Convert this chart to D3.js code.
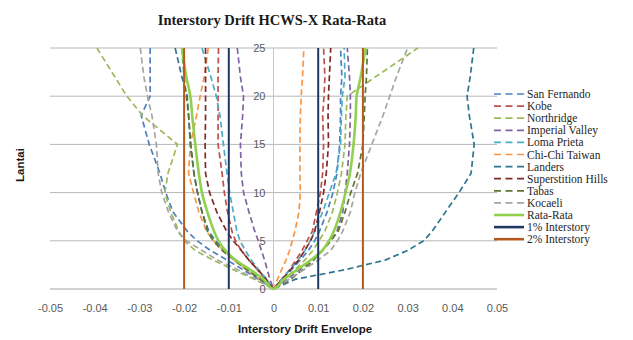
<!DOCTYPE html>
<head>
    <meta charset="utf-8">
    <script src="https://cdn.jsdelivr.net/npm/d3@7/dist/d3.min.js"></script>
    <style>
        body { margin: 0; background: #fff; }
    </style>
</head>
<body>
<div>
    <svg width="633" height="340"></svg>
</div>
<script type="text/javascript">
    var svg = d3.select("svg"),
            width = +svg.attr("width"),
            height = +svg.attr("height");

    // lantai (story) where drift envelope values were read
    var floors = [0, 1, 2, 3, 4, 5, 6, 8, 10, 12, 15, 18, 20, 22, 25];

    var sanFernandoMin = [0, -0.0033, -0.0068, -0.0104, -0.0141, -0.0171, -0.0193, -0.0225, -0.0241, -0.0254, -0.0278, -0.0296, -0.0276, -0.0276, -0.0276];
    var sanFernandoMax = [0, 0.0020, 0.0040, 0.0060, 0.0078, 0.0092, 0.0103, 0.0120, 0.0133, 0.0142, 0.0148, 0.0150, 0.0150, 0.0153, 0.0150];
    var kobeMin = [0, -0.0018, -0.0036, -0.0055, -0.0072, -0.0085, -0.0093, -0.0103, -0.0110, -0.0115, -0.0124, -0.0124, -0.0124, -0.0124, -0.0123];
    var kobeMax = [0, 0.0018, 0.0036, 0.0050, 0.0064, 0.0075, 0.0087, 0.0096, 0.0105, 0.0110, 0.0112, 0.0110, 0.0113, 0.0115, 0.0112];
    var northridgeMin = [0, -0.0042, -0.0090, -0.0135, -0.0175, -0.0200, -0.0212, -0.0230, -0.0243, -0.0236, -0.0215, -0.0293, -0.0328, -0.0355, -0.0395];
    var northridgeMax = [0, 0.0024, 0.0048, 0.0070, 0.0088, 0.0102, 0.0115, 0.0132, 0.0143, 0.0152, 0.0160, 0.0162, 0.0165, 0.0228, 0.0323];
    var imperialValleyMin = [0, -0.0008, -0.0014, -0.0020, -0.0027, -0.0034, -0.0042, -0.0055, -0.0067, -0.0072, -0.0074, -0.0069, -0.0067, -0.0074, -0.0081];
    var imperialValleyMax = [0, 0.0030, 0.0058, 0.0085, 0.0110, 0.0128, 0.0142, 0.0155, 0.0160, 0.0165, 0.0170, 0.0172, 0.0172, 0.0170, 0.0165];
    var lomaPrietaMin = [0, -0.0015, -0.0033, -0.0050, -0.0063, -0.0075, -0.0082, -0.0090, -0.0098, -0.0104, -0.0112, -0.0120, -0.0128, -0.0140, -0.0160];
    var lomaPrietaMax = [0, 0.0018, 0.0037, 0.0055, 0.0070, 0.0082, 0.0092, 0.0110, 0.0125, 0.0140, 0.0150, 0.0152, 0.0154, 0.0160, 0.0158];
    var chiChiMin = [0, -0.0030, -0.0060, -0.0089, -0.0112, -0.0134, -0.0150, -0.0167, -0.0179, -0.0190, -0.0186, -0.0172, -0.0164, -0.0155, -0.0146];
    var chiChiMax = [0, 0.0009, 0.0018, 0.0028, 0.0036, 0.0042, 0.0048, 0.0057, 0.0060, 0.0059, 0.0059, 0.0060, 0.0062, 0.0065, 0.0068];
    var landersMin = [0, -0.0025, -0.0055, -0.0085, -0.0110, -0.0130, -0.0145, -0.0160, -0.0170, -0.0178, -0.0186, -0.0190, -0.0193, -0.0205, -0.0220];
    var landersMax = [0, 0.0048, 0.0160, 0.0250, 0.0300, 0.0336, 0.0355, 0.0385, 0.0415, 0.0442, 0.0449, 0.0438, 0.0433, 0.0440, 0.0448];
    var superstitionMin = [0, -0.0016, -0.0035, -0.0055, -0.0072, -0.0090, -0.0105, -0.0127, -0.0143, -0.0152, -0.0153, -0.0152, -0.0152, -0.0152, -0.0152];
    var superstitionMax = [0, 0.0019, 0.0038, 0.0056, 0.0070, 0.0083, 0.0092, 0.0103, 0.0112, 0.0118, 0.0123, 0.0122, 0.0123, 0.0125, 0.0128];
    var tabasMin = [0, -0.0030, -0.0060, -0.0088, -0.0115, -0.0135, -0.0148, -0.0160, -0.0170, -0.0178, -0.0185, -0.0190, -0.0195, -0.0200, -0.0205];
    var tabasMax = [0, 0.0038, 0.0065, 0.0090, 0.0110, 0.0128, 0.0145, 0.0160, 0.0173, 0.0188, 0.0200, 0.0203, 0.0205, 0.0208, 0.0210];
    var kocaeliMin = [0, -0.0040, -0.0080, -0.0125, -0.0160, -0.0195, -0.0215, -0.0235, -0.0250, -0.0258, -0.0262, -0.0272, -0.0282, -0.0290, -0.0298];
    var kocaeliMax = [0, 0.0034, 0.0068, 0.0100, 0.0128, 0.0143, 0.0155, 0.0172, 0.0182, 0.0195, 0.0220, 0.0245, 0.0260, 0.0275, 0.0300];
    var rataMin = [0, -0.0022, -0.0052, -0.0085, -0.0108, -0.0123, -0.0133, -0.0148, -0.0160, -0.0167, -0.0175, -0.0182, -0.0186, -0.0195, -0.0205];
    var rataMax = [0, 0.0023, 0.0053, 0.0083, 0.0109, 0.0124, 0.0135, 0.0150, 0.0161, 0.0171, 0.0179, 0.0184, 0.0186, 0.0195, 0.0206];

    var limitValues = [0.01, 0.02];
    var limitFloors = [0, 25];

    var seriesNames = ["San Fernando", "Kobe", "Northridge", "Imperial Valley", "Loma Prieta",
        "Chi-Chi Taiwan", "Landers", "Superstition Hills", "Tabas", "Kocaeli",
        "Rata-Rata", "1% Interstory", "2% Interstory"];
    var seriesMin = [sanFernandoMin, kobeMin, northridgeMin, imperialValleyMin, lomaPrietaMin,
        chiChiMin, landersMin, superstitionMin, tabasMin, kocaeliMin, rataMin];
    var seriesMax = [sanFernandoMax, kobeMax, northridgeMax, imperialValleyMax, lomaPrietaMax,
        chiChiMax, landersMax, superstitionMax, tabasMax, kocaeliMax, rataMax];

    var xTicks = [-0.05, -0.04, -0.03, -0.02, -0.01, 0, 0.01, 0.02, 0.03, 0.04, 0.05];
    var yTicks = [0, 5, 10, 15, 20, 25];

    var colors = ["#4f81bd", "#c0504d", "#9bbb59", "#8064a2", "#4bacc6", "#f79646",
        "#2e7590", "#7f2a28", "#5f7530", "#a5a5a5", "#92d050", "#1f3864", "#b55a1c"];

    var xScale = d3.scaleLinear().domain([-0.05, 0.05]).range([50, 497]);
    var yScale = d3.scaleLinear().domain([0, 25]).range([289, 48]);

    // gridlines
    svg.append("g")
            .selectAll("line")
            .data(yTicks)
            .enter()
            .append("line")
            .attr("x1", xScale(-0.05))
            .attr("x2", xScale(0.05))
            .attr("y1", function (d) { return yScale(d); })
            .attr("y2", function (d) { return yScale(d); })
            .attr("stroke", function (d) { return d === 0 ? "#a6a6a6" : "#b8b8b8"; })
            .attr("stroke-width", 1);

    // vertical axis crossing at 0
    svg.append("line")
            .attr("x1", xScale(0)).attr("x2", xScale(0))
            .attr("y1", yScale(0)).attr("y2", yScale(25))
            .attr("stroke", "#c8c8c8")
            .attr("stroke-width", 1);

    // x tick labels (below plot)
    var xAxis = d3.axisBottom(xScale)
            .tickValues(xTicks)
            .tickSize(0)
            .tickPadding(15)
            .tickFormat(function (d) { return String(d); });
    var gx = svg.append("g")
            .attr("transform", "translate(0," + yScale(0) + ")")
            .call(xAxis);
    gx.select(".domain").remove();
    gx.selectAll("text")
            .attr("font-family", "Liberation Sans, Arial, sans-serif")
            .attr("font-size", 11)
            .attr("fill", "#595959");

    // y tick labels next to the axis at x = 0
    var yAxis = d3.axisLeft(yScale)
            .tickValues(yTicks)
            .tickSize(0)
            .tickPadding(8);
    var gy = svg.append("g")
            .attr("transform", "translate(" + xScale(0) + ",0)")
            .call(yAxis);
    gy.select(".domain").remove();
    gy.selectAll("text")
            .attr("font-family", "Liberation Sans, Arial, sans-serif")
            .attr("font-size", 11)
            .attr("fill", "#595959");

    var line = d3.line()
            .x(function (d) { return xScale(d[0]); })
            .y(function (d) { return yScale(d[1]); });
    var smooth = d3.line()
            .x(function (d) { return xScale(d[0]); })
            .y(function (d) { return yScale(d[1]); })
            .curve(d3.curveCatmullRom.alpha(0.5));

    // each envelope runs from the top of the min side down to 0 and up the max side
    function envelope(i) {
        var pts = [];
        for (var k = floors.length - 1; k >= 0; k--) pts.push([seriesMin[i][k], floors[k]]);
        for (var k2 = 1; k2 < floors.length; k2++) pts.push([seriesMax[i][k2], floors[k2]]);
        return pts;
    }

    var plot = svg.append("g");
    for (var i = 0; i < 10; i++) {
        plot.append("path")
                .attr("d", line(envelope(i)))
                .attr("fill", "none")
                .attr("stroke", colors[i])
                .attr("stroke-width", 1.7)
                .attr("stroke-dasharray", "6,3.5");
    }
    plot.append("path")
            .attr("d", smooth(envelope(10)))
            .attr("fill", "none")
            .attr("stroke", colors[10])
            .attr("stroke-width", 2.6);

    limitValues.forEach(function (v, j) {
        [-v, v].forEach(function (s) {
            plot.append("path")
                    .attr("d", line(limitFloors.map(function (f) { return [s, f]; })))
                    .attr("fill", "none")
                    .attr("stroke", colors[11 + j])
                    .attr("stroke-width", 2);
        });
    });

    // legend
    var legend = svg.append("g")
            .selectAll("g")
            .data(seriesNames)
            .enter()
            .append("g")
            .attr("transform", function (d, i) { return "translate(494," + (94 + i * 12.1) + ")"; });
    legend.append("line")
            .attr("x1", 0).attr("x2", 30)
            .attr("y1", 0).attr("y2", 0)
            .attr("stroke", function (d, i) { return colors[i]; })
            .attr("stroke-width", function (d, i) { return i < 10 ? 1.7 : 2.6; })
            .attr("stroke-dasharray", function (d, i) { return i < 10 ? "7,4.5" : null; });
    legend.append("text")
            .attr("x", 33)
            .attr("y", 0)
            .attr("dy", "0.35em")
            .attr("font-family", "Liberation Serif, Times New Roman, serif")
            .attr("font-size", 11.5)
            .attr("fill", "#262626")
            .text(function (d) { return d; });

    // titles
    svg.append("text")
            .attr("x", 272)
            .attr("y", 25)
            .attr("text-anchor", "middle")
            .attr("font-family", "Liberation Serif, Times New Roman, serif")
            .attr("font-weight", "bold")
            .attr("font-size", 14.5)
            .attr("fill", "#1a1a1a")
            .text("Interstory Drift HCWS-X Rata-Rata");
    svg.append("text")
            .attr("x", 305)
            .attr("y", 333)
            .attr("text-anchor", "middle")
            .attr("font-family", "Liberation Sans, Arial, sans-serif")
            .attr("font-weight", "bold")
            .attr("font-size", 11.5)
            .attr("fill", "#1a1a1a")
            .text("Interstory Drift Envelope");
    svg.append("text")
            .attr("transform", "translate(24,165) rotate(-90)")
            .attr("text-anchor", "middle")
            .attr("font-family", "Liberation Sans, Arial, sans-serif")
            .attr("font-weight", "bold")
            .attr("font-size", 11.5)
            .attr("fill", "#1a1a1a")
            .text("Lantai");
</script>
</body>
</html>
